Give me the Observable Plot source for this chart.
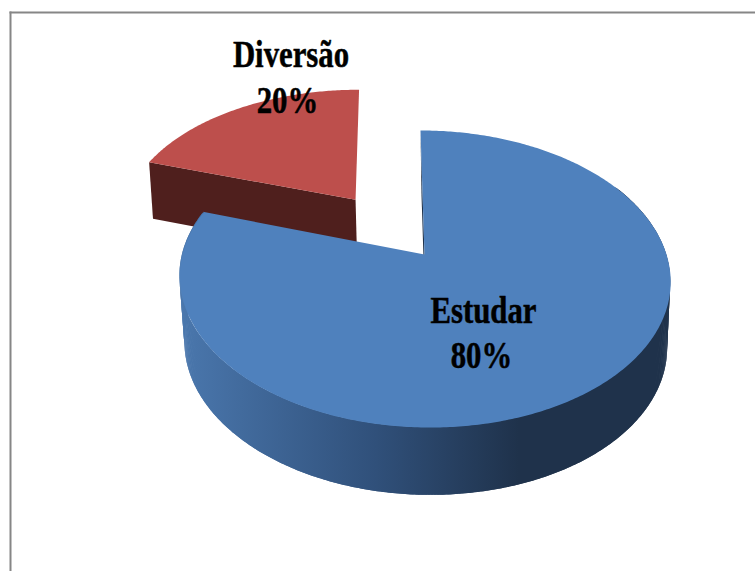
<!DOCTYPE html>
<html>
<head>
<meta charset="utf-8">
<script src="https://cdn.jsdelivr.net/npm/d3@7"></script>
<script src="https://cdn.jsdelivr.net/npm/@observablehq/plot@0.6"></script>
<style>
  html, body { margin: 0; padding: 0; background: #fff; overflow: hidden; }
</style>
</head>
<body>
<div id="chart"></div>
<script>
// Slices of the pie, clockwise from twelve o'clock.
const categories = ["Estudar", "Diversão"];
const shares = [80, 20];

const width = 755;
const height = 571;

// Perspective cameras for the disc: a unit circle (u, v) maps onto the page.
const blueTop = {x0: 424, y0: 254, r: 242, a: 144.5, shear: 4.66, c: 0.165};
const blueBase = {x0: 425, y0: 320, r: 238, a: 146, shear: 4.66, c: 0.165};
const redTop = {...blueTop, x0: 425, r: 244, shear: 7.2};
const redBase = {...blueBase, y0: 314, a: 150, r: 242};
const explode = 0.5;

const project = (cam, u, v) => {
  const w = 1 + cam.c * v;
  return {x: cam.x0 + (cam.r * u - cam.shear * v) / w, y: cam.y0 - cam.a * v / w};
};

const arcs = d3.pie().sort(null)(shares);

// Points along the rim of a slice, displaced from the hub by (ou, ov).
const rim = (cam, a0, a1, ou = 0, ov = 0) => {
  const n = Math.ceil((a1 - a0) * 90);
  return d3.range(n + 1).map((i) => {
    const t = a0 + (a1 - a0) * i / n;
    return project(cam, ou + Math.sin(t), ov + Math.cos(t));
  });
};

const blue = arcs[0];
const red = arcs[1];

// Estudar: top face, curved outer wall and the sliver of its cut face.
const blueFace = [project(blueTop, 0, 0), ...rim(blueTop, blue.startAngle, blue.endAngle)];
const wallStart = Math.PI / 3;
const wallTop = rim(blueTop, wallStart, blue.endAngle);
const wallBase = rim(blueBase, wallStart, blue.endAngle);

// The wall is a run of overlapping strips, so it also fills the straight
// silhouette between the two rims at the far left and right of the disc.
const blueWall = d3.range(wallTop.length - 2).flatMap((strip) =>
  [0, 1, 2].map((k) => ({
    strip,
    x1: wallTop[strip + k].x,
    y1: wallTop[strip + k].y,
    x2: wallBase[strip + k].x,
    y2: wallBase[strip + k].y
  }))
);
const blueCut = [
  project(blueTop, 0, 1), project(blueBase, 0, 1),
  project(blueBase, 0, 0), project(blueTop, 0, 0)
];

// Diversão: pulled out along its bisector.
const mid = (red.startAngle + red.endAngle) / 2;
const ou = explode * Math.sin(mid);
const ov = explode * Math.cos(mid);
const redFace = [project(redTop, ou, ov), ...rim(redTop, red.startAngle, red.endAngle, ou, ov)];
const edge = (cam) => project(cam, ou + Math.sin(red.startAngle), ov + Math.cos(red.startAngle));
const redCut = [edge(redTop), project(redTop, ou, ov), project(redBase, ou, ov), edge(redBase)];

// Labels: name over percentage, each line placed on its own.
const labelAt = {
  Estudar: {name: [483, 310], share: [481, 355]},
  "Diversão": {name: [290.5, 54], share: [287, 100]}
};
const labels = categories.flatMap((name, i) => [
  {text: name, x: labelAt[name].name[0], y: labelAt[name].name[1]},
  {text: `${shares[i]}%`, x: labelAt[name].share[0], y: labelAt[name].share[1]}
]);

// Side-wall shading, lit from the left across the width of the disc.
const gradient = () => {
  const defs = document.createElementNS("http://www.w3.org/2000/svg", "defs");
  defs.innerHTML = `<linearGradient id="wall" gradientUnits="userSpaceOnUse" x1="180" x2="671" y1="0" y2="0">
    <stop offset="0" stop-color="#4a77ad"/>
    <stop offset="0.4" stop-color="#30507a"/>
    <stop offset="0.69" stop-color="#1f324b"/>
    <stop offset="1" stop-color="#1f324b"/>
  </linearGradient>`;
  return defs;
};

// Labels are set in a tall, narrow cut of the serif.
const condensed = (index, scales, values, dimensions, context, next) => {
  const g = next(index, scales, values, dimensions, context);
  g.querySelectorAll("text").forEach((t) => {
    t.setAttribute("transform", `${t.getAttribute("transform")} scale(0.81,1)`);
  });
  return g;
};

const polygon = (points, fill) => Plot.line(points, {x: "x", y: "y", fill, stroke: "none"});

const chart = Plot.plot({
  width,
  height,
  marginLeft: 10,
  marginTop: 12,
  marginRight: 0,
  marginBottom: 0,
  x: {domain: [10, width], axis: null},
  y: {domain: [height, 12], axis: null},
  style: {background: "#fff"},
  marks: [
    gradient,
    Plot.frame({anchor: "left", stroke: "#868686", strokeWidth: 2}),
    Plot.frame({anchor: "top", stroke: "#868686", strokeWidth: 2}),
    polygon(redCut, "#4f1f1d"),
    polygon(redFace, "#bd4f4c"),
    polygon(blueCut, "#1f324b"),
    Plot.area(blueWall, {x1: "x1", y1: "y1", x2: "x2", y2: "y2", z: "strip", fill: "url(#wall)"}),
    polygon(blueFace, "#4f81bd"),
    Plot.text(labels, {
      x: "x",
      y: "y",
      text: "text",
      fill: "#000",
      stroke: "#000",
      strokeWidth: 0.5,
      fontFamily: "Liberation Serif",
      fontWeight: "bold",
      fontSize: 38,
      textAnchor: "middle",
      render: condensed
    })
  ]
});

document.getElementById("chart").appendChild(chart);
</script>
</body>
</html>
